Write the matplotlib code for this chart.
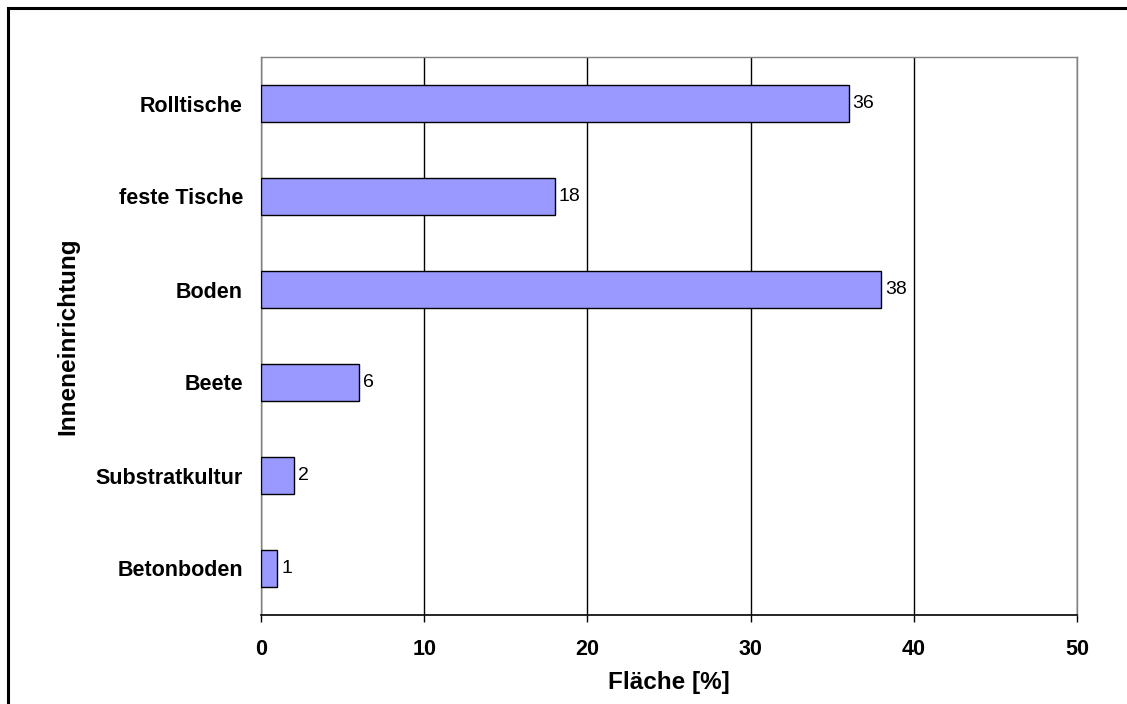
import matplotlib.pyplot as plt
from matplotlib.patches import Rectangle

plt.rcParams["font.family"] = ["Liberation Sans", "DejaVu Sans"]

categories = ["Rolltische", "feste Tische", "Boden", "Beete", "Substratkultur", "Betonboden"]
values = [36, 18, 38, 6, 2, 1]
xticks = [0, 10, 20, 30, 40, 50]

fig = plt.figure(figsize=(11.27, 7.04), dpi=100)
ax = fig.add_axes([261 / 1127, 1 - 615 / 704, 816 / 1127, 558 / 704])

pos = range(len(categories))
bars = ax.barh(pos, values, height=0.4, color="#9999FF", edgecolor="black", linewidth=1, zorder=3)
ax.set_ylim(len(categories) - 0.5, -0.5)
ax.set_xlim(0, 50)

for b, v in zip(bars, values):
    ax.annotate(str(v), (b.get_width(), b.get_y() + b.get_height() / 2),
                xytext=(3, 0), textcoords="offset points",
                ha="left", va="center", fontsize=14, zorder=4)

ax.set_xticks(xticks)
ax.set_yticks(list(pos))
ax.set_yticklabels(categories, fontsize=15.5, fontweight="bold")
ax.set_xticklabels([str(t) for t in xticks], fontsize=15.5, fontweight="bold")
ax.tick_params(axis="y", length=0, pad=13)
ax.tick_params(axis="x", direction="out", length=5, width=1, pad=12)

ax.grid(axis="x", color="black", linewidth=1, zorder=0)
for s in ["top", "right", "left"]:
    ax.spines[s].set_color("#808080")
    ax.spines[s].set_linewidth(1)
ax.spines["bottom"].set_color("black")
ax.spines["bottom"].set_linewidth(1.2)

ax.set_xlabel("Fläche [%]", fontsize=17.5, fontweight="bold", labelpad=8)
ax.set_ylabel("Inneneinrichtung", fontsize=17.5, fontweight="bold", labelpad=12)

# outer chart frame
fig.patches.append(Rectangle((8 / 1127, -0.05), 1.2, 1 - 8 / 704 + 0.05,
                             transform=fig.transFigure, fill=False,
                             edgecolor="black", linewidth=2.2))

fig.savefig("out.png", dpi=100)
